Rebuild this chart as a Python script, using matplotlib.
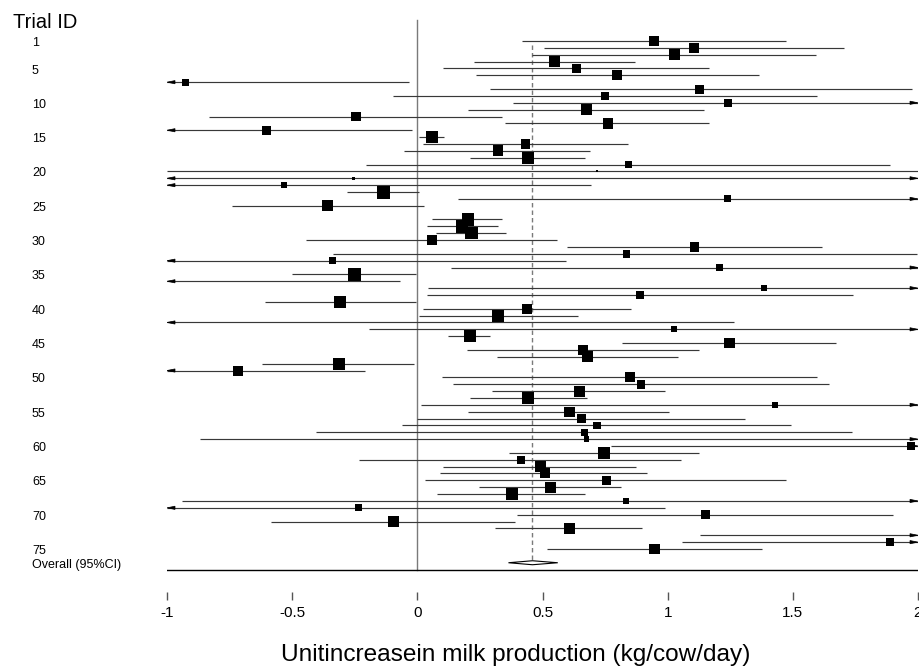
import numpy as np
import matplotlib
matplotlib.use("Agg")
import matplotlib.pyplot as plt
from matplotlib.transforms import blended_transform_factory
from matplotlib.patches import Polygon

plt.rcParams['font.family'] = ['Liberation Sans', 'DejaVu Sans']

# ---------------- data ----------------
trial_ids = list(range(1, 76))
estimate = [0.946, 1.106, 1.028, 0.549, 0.636, 0.798, -0.925, 1.129, 0.751, 1.242,
            0.676, -0.246, 0.763, -0.603, 0.059, 0.432, 0.322, 0.441, 0.843, 0.716,
            -0.256, -0.531, -0.136, 1.239, -0.359, np.nan, 0.202, 0.178, 0.216, 0.059,
            1.108, 0.836, -0.338, 1.209, -0.251, -1.200, 1.385, 0.890, -0.310, 0.439,
            0.324, -1.300, 1.026, 0.209, 1.247, 0.662, 0.678, -0.312, -0.718, 0.850,
            0.894, 0.648, 0.441, 1.427, 0.608, 0.657, 0.718, 0.669, 0.676, 1.972,
            0.746, 0.413, 0.493, 0.509, 0.756, 0.531, 0.378, 0.833, -0.235, 1.150,
            -0.094, 0.606, 2.300, 1.887, 0.948]
lower = [0.418, 0.507, 0.460, 0.225, 0.103, 0.235, -1.817, 0.289, -0.096, 0.383,
         0.204, -0.831, 0.350, -1.185, 0.005, 0.023, -0.052, 0.211, -0.204, -1.000,
         -3.500, -1.757, -0.282, 0.164, -0.739, np.nan, 0.059, 0.038, 0.075, -0.444,
         0.596, -0.338, -1.268, 0.136, -0.499, -2.330, 0.042, 0.038, -0.608, 0.023,
         0.007, -3.900, -0.195, 0.122, 0.817, 0.200, 0.319, -0.622, -1.225, 0.099,
         0.141, 0.298, 0.211, 0.014, 0.204, 0.000, -0.063, -0.406, -0.869, 0.773,
         0.366, -0.232, 0.103, 0.089, 0.031, 0.246, 0.080, -0.939, -1.461, 0.399,
         -0.585, 0.310, 1.131, 1.056, 0.519]
upper = [1.474, 1.704, 1.592, 0.871, 1.164, 1.366, -0.033, 1.977, 1.596, 2.101,
         1.146, 0.340, 1.164, -0.021, 0.106, 0.843, 0.690, 0.669, 1.887, 2.000,
         3.000, 0.695, 0.005, 2.314, 0.026, np.nan, 0.340, 0.322, 0.354, 0.559,
         1.615, 1.995, 0.592, 2.282, -0.007, -0.068, 2.728, 1.742, -0.007, 0.852,
         0.643, 1.265, 2.247, 0.289, 1.674, 1.127, 1.042, -0.012, -0.211, 1.596,
         1.643, 0.988, 0.676, 2.840, 1.007, 1.307, 1.493, 1.735, 2.221, 3.171,
         1.127, 1.052, 0.873, 0.918, 1.474, 0.815, 0.671, 2.605, 0.991, 1.899,
         0.392, 0.899, 3.470, 2.718, 1.376]
# box sizes (relative weights shown as square side, px)
box_size = [9.3, 10.0, 10.7, 11.0, 9.3, 9.7, 7.3, 9.0, 8.0, 8.3,
            11.0, 9.7, 10.3, 9.3, 12.3, 9.7, 10.7, 12.0, 7.3, 2.0,
            3.0, 6.0, 13.0, 7.0, 11.0, np.nan, 12.7, 12.3, 12.3, 9.3,
            9.3, 7.7, 7.0, 7.0, 12.7, 8.0, 6.0, 8.7, 12.3, 10.0,
            12.0, 5.0, 6.0, 11.7, 10.7, 10.3, 11.0, 11.7, 10.0, 10.0,
            8.7, 11.0, 12.0, 6.0, 10.3, 8.7, 7.7, 7.3, 5.5, 7.3,
            11.7, 8.3, 11.3, 10.0, 9.7, 11.0, 11.3, 6.0, 7.3, 9.3,
            10.7, 11.0, 7.0, 7.7, 10.7]
overall_est, overall_lo, overall_hi = 0.460, 0.364, 0.561
overall_label = "Overall (95%CI)"
label_ids = [1, 5, 10, 15, 20, 25, 30, 35, 40, 45, 50, 55, 60, 65, 70, 75]
x_ticks = [-1, -0.5, 0, 0.5, 1, 1.5, 2]
x_tick_labels = ['-1', '-0.5', '0', '0.5', '1', '1.5', '2']
x_label = "Unitincreasein milk production (kg/cow/day)"
y_title = "Trial ID"

# ---------------- layout ----------------
W, H = 919, 667
fig = plt.figure(figsize=(W / 100, H / 100), dpi=100)
XMIN, XMAX = -1.0, 2.0
row1_px, row_step = 41.0, 6.865
ax_top_px, ax_bot_px = 10.0, 600.0
ax_left_px, ax_right_px = 167.0, 918.0
ax = fig.add_axes([ax_left_px / W, 1 - ax_bot_px / H,
                   (ax_right_px - ax_left_px) / W, (ax_bot_px - ax_top_px) / H])
def px2row(p):
    return 1 + (p - row1_px) / row_step
ax.set_xlim(XMIN, XMAX)
ax.set_ylim(px2row(ax_bot_px), px2row(ax_top_px))
for s in ax.spines.values():
    s.set_visible(False)
ax.set_yticks([])

n = len(trial_ids)
overall_row = n + 2
bottom_row = n + 3

# reference lines
ax.plot([0, 0], [px2row(19.5), bottom_row], color='#7a7a7a', lw=1.0, zorder=1)
ax.plot([overall_est, overall_est], [px2row(45), overall_row], color='#7a7a7a',
        lw=1.0, dashes=(3.2, 2.2), zorder=1)

# CIs
line_col = '#383838'
ux = 3.0 / (ax_right_px - ax_left_px)  # data units per px (x)
arrow_len = 8 * ux
arrow_half = 1.6 / row_step
for tid, e, lo, hi, b in zip(trial_ids, estimate, lower, upper, box_size):
    if np.isnan(e):
        continue
    y = tid
    l = max(lo, XMIN)
    h = min(hi, XMAX)
    ax.plot([l, h], [y, y], color=line_col, lw=0.85, solid_capstyle='butt', zorder=2)
    if lo < XMIN:
        ax.add_patch(Polygon([[XMIN, y], [XMIN + arrow_len, y - arrow_half],
                              [XMIN + arrow_len, y + arrow_half]], closed=True,
                             facecolor='black', edgecolor='black', lw=0.5, zorder=3))
    if hi > XMAX:
        ax.add_patch(Polygon([[XMAX, y], [XMAX - arrow_len, y - arrow_half],
                              [XMAX - arrow_len, y + arrow_half]], closed=True,
                             facecolor='black', edgecolor='black', lw=0.5, zorder=3))

est_arr = np.array(estimate, dtype=float)
box_arr = np.array(box_size, dtype=float)
ids_arr = np.array(trial_ids, dtype=float)
mask = ~np.isnan(est_arr)
ax.scatter(est_arr[mask], ids_arr[mask], s=(box_arr[mask] * 0.72) ** 2, marker='s',
           color='black', linewidths=0, zorder=4)

# overall diamond
dh = 2.0 / row_step
ax.add_patch(Polygon([[overall_lo, overall_row], [overall_est, overall_row - dh],
                      [overall_hi, overall_row], [overall_est, overall_row + dh]],
                     closed=True, facecolor='white', edgecolor='black', lw=0.8, zorder=5))

# bottom line
ax.plot([XMIN, XMAX], [bottom_row, bottom_row], color='black', lw=1.0, zorder=2)

# ticks
ax.vlines(x_ticks, px2row(591.5), px2row(600), color='#555555', lw=1.0, clip_on=False)
ax.set_xticks(x_ticks, x_tick_labels)
ax.tick_params(axis='x', length=0, pad=4.5, labelsize=11)

# labels
trans = blended_transform_factory(fig.transFigure, ax.transData)
for tid in label_ids:
    ax.text(32 / W, tid + 0.3, str(tid), transform=trans, ha='left', va='center',
            fontsize=9, clip_on=False)
ax.text(32 / W, overall_row + 0.3, overall_label, transform=trans, ha='left',
        va='center', fontsize=9, clip_on=False)
fig.text(13 / W, 1 - 22.5 / H, y_title, ha='left', va='center', fontsize=14.5)
fig.text(516 / W, 1 - 655 / H, x_label, ha='center', va='center', fontsize=17.6)

fig.savefig('out.png', dpi=100)
